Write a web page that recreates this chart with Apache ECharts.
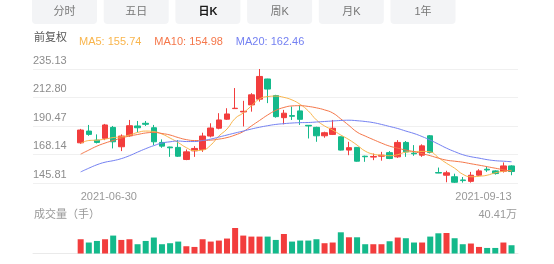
<!DOCTYPE html>
<html><head><meta charset="utf-8">
<script src="https://cdn.jsdelivr.net/npm/echarts@6/dist/echarts.min.js"></script>
<style>html,body{margin:0;padding:0;background:#fff}#c{width:554px;height:264px}</style>
</head><body><div id="c"></div>
<script>
const dates = ['2021-06-30',
'2021-07-01','2021-07-02','2021-07-05','2021-07-06','2021-07-07','2021-07-08','2021-07-09','2021-07-12','2021-07-13','2021-07-14','2021-07-15','2021-07-16','2021-07-19','2021-07-20','2021-07-21','2021-07-22','2021-07-23','2021-07-26','2021-07-27','2021-07-28','2021-07-29','2021-07-30',
'2021-08-02','2021-08-03','2021-08-04','2021-08-05','2021-08-06','2021-08-09','2021-08-10','2021-08-11','2021-08-12','2021-08-13','2021-08-16','2021-08-17','2021-08-18','2021-08-19','2021-08-20','2021-08-23','2021-08-24','2021-08-25','2021-08-26','2021-08-27','2021-08-30','2021-08-31',
'2021-09-01','2021-09-02','2021-09-03','2021-09-06','2021-09-07','2021-09-08','2021-09-09','2021-09-10','2021-09-13'];
const opens = [177.3,186.5,179.4,180.8,189.4,174.2,182.8,190.5,192.6,189.1,177.6,174.0,173.7,164.2,171.0,172.1,182.6,188.7,195.8,204.1,201.5,207.0,211.5,227.3,214.3,197.0,198.6,202.3,191.0,189.4,182.8,183.9,182.0,171.6,173.7,166.8,166.1,166.8,169.6,166.3,177.6,169.2,167.6,182.8,154.0,151.9,150.7,148.2,147.1,151.9,156.6,155.3,155.0,159.2];
const closes = [187.3,183.9,177.6,191.3,178.1,182.6,190.7,189.1,191.8,178.1,174.7,173.4,166.8,170.2,172.9,182.6,188.9,195.2,199.9,204.4,202.0,214.9,229.3,219.4,197.8,200.5,198.1,195.7,190.5,182.8,185.2,188.7,171.6,173.5,162.9,166.4,166.6,167.6,165.0,177.6,170.2,168.7,174.9,169.8,153.6,153.8,146.4,147.7,151.9,155.3,156.0,153.2,159.2,154.8];
const lows = [176.5,182.8,176.8,179.4,172.9,170.8,182.0,185.5,190.5,175.5,173.4,166.3,166.2,163.7,166.3,170.2,181.6,187.9,195.2,203.9,190.1,201.7,209.6,208.4,197.0,191.8,195.2,191.3,180.7,178.1,181.3,183.4,171.3,167.6,162.5,162.4,163.7,163.3,164.5,165.5,166.3,167.1,166.3,169.0,153.5,146.4,145.81,146.1,146.1,151.3,154.5,152.4,154.0,151.9];
const highs = [188.2,191.3,183.9,192.1,190.5,183.9,195.2,194.4,194.4,191.3,180.0,174.2,179.4,172.1,174.7,185.2,192.6,200.5,204.4,220.2,210.2,216.2,235.13,227.5,214.9,203.1,205.7,206.5,191.1,189.9,186.0,195.2,182.3,178.1,173.9,167.2,168.9,170.2,170.8,179.4,178.7,175.5,176.1,183.4,157.9,155.4,153.1,150.5,154.5,156.6,158.4,155.8,161.9,159.7];
const volumes = [22.6,17.4,19.9,22.6,28.4,21.5,22.6,14.7,19.9,25.3,14.7,16.3,18.9,11.5,10.4,22.6,18.9,20.5,23.7,40.41,28.4,26.8,26.8,26.8,21.5,30.9,18.9,20.5,20.5,22.6,16.3,17.4,33.6,25.7,25.7,14.7,14.7,14.7,19.4,25.3,24.2,17.4,17.4,26.8,32.0,32.5,24.2,14.7,15.8,10.4,8.8,8.8,17.4,13.1];
const ma5 = [176.8,179.1,179.4,180.2,181.4,182.0,183.4,185.4,186.5,186.1,184.2,181.0,177.5,173.5,171.2,171.6,175.5,182.6,188.1,196.4,200.7,206.2,211.7,213.5,213.9,212.9,210.9,207.4,202.3,195.2,190.5,187.3,183.4,179.8,175.5,170.8,168.4,167.6,167.2,168.0,170.0,170.4,170.6,170.2,165.7,161.3,157.4,152.7,150.7,151.1,151.9,153.8,155.0,155.74];
const ma10 = [168.4,171.6,174.7,177.1,179.1,181.0,182.6,183.8,185.0,185.4,184.6,183.4,181.4,179.8,179.1,179.1,179.4,180.2,181.4,183.4,186.1,190.5,194.8,199.1,202.7,205.0,206.2,206.4,205.8,204.7,203.1,200.7,196.0,190.9,185.7,182.6,179.8,177.1,174.7,173.1,171.6,170.4,168.8,167.2,165.3,163.7,162.9,162.1,160.9,159.8,158.6,157.4,156.2,154.98];
const ma20 = [154.5,157.4,160.1,162.1,163.3,164.9,167.2,170.0,172.7,175.1,177.1,178.1,178.7,178.3,178.3,179.1,180.2,181.8,183.4,185.0,186.5,188.1,189.5,190.7,191.7,192.3,192.8,193.1,193.2,193.6,194.0,194.4,194.8,195.0,194.6,194.0,193.1,191.7,190.1,188.5,186.5,184.6,182.2,179.4,176.3,173.1,170.4,168.0,166.4,165.3,164.1,163.3,162.9,162.46];
const yTickLabels = ['145.81','168.14','190.47','212.80','235.13'];
const tabs = ['分时','五日','日K','周K','月K','1年'];
const activeTab = '日K';

const FF = 'Arial, "Liberation Sans", "Noto Sans CJK SC", sans-serif';
const UP = '#f23d3d', DOWN = '#14b98b';
const C5 = '#f9b54c', C10 = '#f5774a', C20 = '#7481f2';
const last = a => a[a.length - 1];
const maMap = {MA5: ma5, MA10: ma10, MA20: ma20};
const yMin = parseFloat(yTickLabels[0]), yMax = parseFloat(last(yTickLabels));
const volMax = Math.max(...volumes);

const chart = echarts.init(document.getElementById('c'), null, {renderer: 'canvas'});

const graphics = [];
tabs.forEach((t, i) => {
  const x = 32 + i * 71.7;
  graphics.push({type: 'rect', shape: {x: x, y: -4, width: 65, height: 28, r: 4}, style: {fill: '#f3f4f6'}, silent: true});
  graphics.push({type: 'text', x: x + 32.5, y: 12, style: {text: t, fill: t === activeTab ? '#1a1a1a' : '#777', font: (t === activeTab ? 'bold ' : '') + '11px ' + FF, textAlign: 'center', textVerticalAlign: 'middle'}, silent: true});
});
graphics.push({type: 'text', x: 34, y: 38, style: {text: '前复权', fill: '#555', font: '11px ' + FF, textVerticalAlign: 'middle'}});
graphics.push({type: 'text', x: 34, y: 215, style: {text: '成交量（手）', fill: '#999', font: '11px ' + FF, textVerticalAlign: 'middle'}});
graphics.push({type: 'text', x: 517, y: 215, style: {text: volMax.toFixed(2) + '万', fill: '#999', font: '11px ' + FF, textAlign: 'right', textVerticalAlign: 'middle'}});

const candleData = dates.map((d, i) => [opens[i], closes[i], lows[i], highs[i]]);
const volData = volumes.map((v, i) => ({value: v, itemStyle: {color: closes[i] >= opens[i] ? UP : DOWN}}));

const option = {
  animation: false,
  backgroundColor: '#fff',
  textStyle: {fontFamily: FF},
  graphic: graphics,
  legend: {
    left: 69, top: 31, icon: 'none', itemWidth: 0, itemHeight: 0, itemGap: 8, selectedMode: false,
    data: [{name: 'MA5', textStyle: {color: C5}}, {name: 'MA10', textStyle: {color: C10}}, {name: 'MA20', textStyle: {color: C20}}],
    formatter: n => n + ': ' + last(maMap[n]).toFixed(2),
    textStyle: {fontSize: 11, fontFamily: FF}
  },
  grid: [
    {left: 33, width: 485, top: 69, height: 114},
    {left: 76.6, width: 439, top: 69, height: 114},
    {left: 33, width: 485, top: 228, height: 25.5},
    {left: 76.6, width: 439, top: 228, height: 25.5}
  ],
  xAxis: [
    {gridIndex: 0, type: 'value', show: false},
    {gridIndex: 1, type: 'category', data: dates, boundaryGap: true,
      axisLine: {show: false}, axisTick: {show: false}, splitLine: {show: false},
      axisLabel: {show: true, color: '#999', fontSize: 11, margin: 8,
        interval: (idx) => idx === 0 || idx === dates.length - 1,
        alignMinLabel: 'left', alignMaxLabel: 'right'}},
    {gridIndex: 2, type: 'value', axisLine: {show: true, onZero: false, lineStyle: {color: '#eaeaea'}}, axisTick: {show: false}, axisLabel: {show: false}, splitLine: {show: false}},
    {gridIndex: 3, type: 'category', data: dates, boundaryGap: true, show: false}
  ],
  yAxis: [
    {gridIndex: 0, type: 'value', min: 0, max: yTickLabels.length - 1, interval: 1,
      axisLine: {show: false}, axisTick: {show: false},
      splitLine: {show: true, lineStyle: {color: '#f0f0f0', width: 1}},
      axisLabel: {inside: true, margin: 0, color: '#8c8c8c', fontSize: 11, verticalAlign: 'bottom', padding: [0, 0, 3, 0],
        formatter: v => yTickLabels[v]}},
    {gridIndex: 1, type: 'value', min: yMin, max: yMax, show: false},
    {gridIndex: 2, type: 'value', show: false},
    {gridIndex: 3, type: 'value', min: 0, max: volMax, show: false}
  ],
  series: [
    {type: 'candlestick', xAxisIndex: 1, yAxisIndex: 1, data: candleData, barWidth: 6,
      itemStyle: {color: UP, color0: DOWN, borderColor: UP, borderColor0: DOWN, borderWidth: 1}},
    {name: 'MA5', type: 'line', xAxisIndex: 1, yAxisIndex: 1, data: ma5, smooth: true, symbol: 'none', lineStyle: {width: 1, color: C5}, itemStyle: {color: C5}},
    {name: 'MA10', type: 'line', xAxisIndex: 1, yAxisIndex: 1, data: ma10, smooth: true, symbol: 'none', lineStyle: {width: 1, color: C10}, itemStyle: {color: C10}},
    {name: 'MA20', type: 'line', xAxisIndex: 1, yAxisIndex: 1, data: ma20, smooth: true, symbol: 'none', lineStyle: {width: 1, color: C20}, itemStyle: {color: C20}},
    {type: 'bar', xAxisIndex: 3, yAxisIndex: 3, data: volData, barWidth: 6}
  ]
};
chart.setOption(option);
</script>
</body></html>
